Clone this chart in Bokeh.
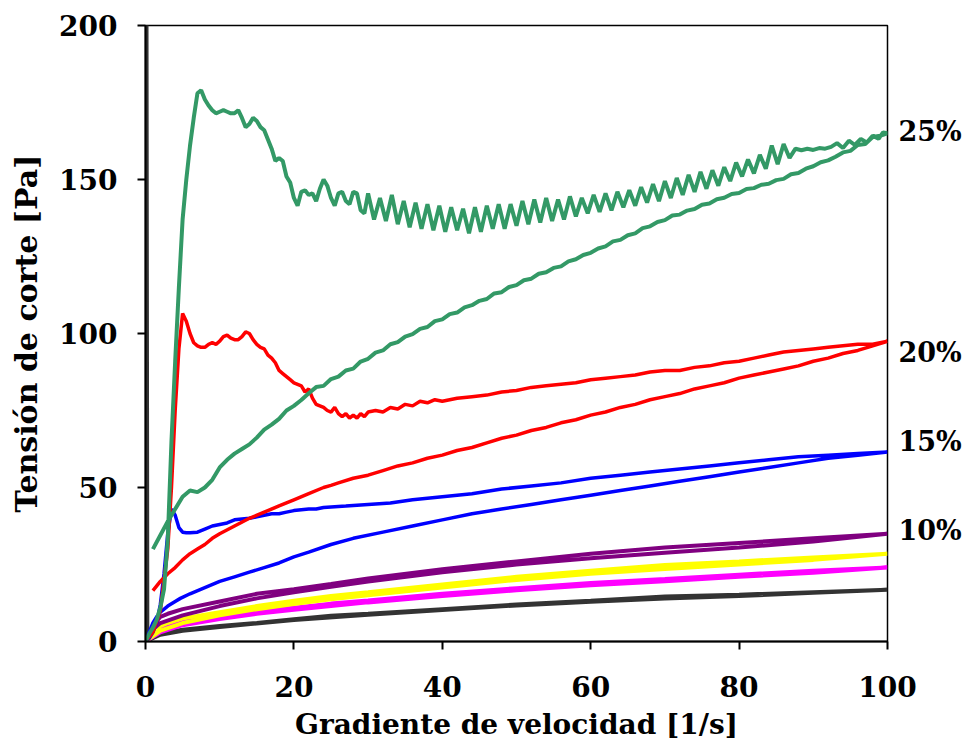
from bokeh.plotting import figure
from bokeh.models import Range1d, FixedTicker, LinearAxis
from bokeh.embed import file_html
from bokeh.resources import INLINE

# ---------------- data ----------------
x_ticks = [0, 20, 40, 60, 80, 100]
y_ticks = [0, 50, 100, 150, 200]
x_title = "Gradiente de velocidad [1/s]"
y_title = "Tensión de corte [Pa]"

series_labels = ["25%", "20%", "15%", "10%"]
series_label_y = [165.5, 93.8, 65.0, 36.0]

# 25 % - green: overshoot / oscillating up branch, then smooth return branch
green_x = [0, 0.5, 1, 1.5, 2, 2.5, 3, 3.5, 4, 4.5, 5, 5.5, 6, 6.5, 7, 7.5, 8, 8.5, 9, 9.5,
           10, 10.5, 11, 11.5, 12, 12.5, 13, 13.5, 14, 14.5, 15, 15.5, 16, 16.5, 17, 17.5,
           18, 18.5, 19, 19.5, 20, 20.5, 21, 21.5, 22, 22.5, 23, 23.5, 24, 24.5, 25, 25.5,
           26, 26.5, 27, 27.5, 28, 28.5, 29, 29.5,
           30.0, 30.8, 31.6, 32.4, 33.2, 34.0, 34.8, 35.6, 36.4, 37.2, 38.0, 38.8, 39.6, 40.4,
           41.2, 42.0, 42.8, 43.6, 44.4, 45.2, 46.0, 46.8, 47.6, 48.4, 49.2, 50.0, 50.8, 51.6,
           52.4, 53.2, 54.0, 54.8, 55.6, 56.4, 57.2, 58.0, 58.8, 59.6, 60.4, 61.2, 62.0, 62.8,
           63.6, 64.4, 65.2, 66.0, 66.8, 67.6, 68.4, 69.2, 70.0, 70.8, 71.6, 72.4, 73.2, 74.0,
           74.8, 75.6, 76.4, 77.2, 78.0, 78.8, 79.6, 80.4, 81.2, 82.0, 82.8, 83.6, 84.4, 85.2,
           86.0, 86.8, 87.6,
           88.4, 89.2, 90.0, 90.8, 91.6, 92.4, 93.2, 94.0, 94.8, 95.6, 96.4, 97.2, 98.0, 98.8,
           99.4, 100,
           99, 98, 97, 96, 95, 94, 93, 92, 91, 90, 89, 88, 87, 86, 85, 84, 83, 82, 81, 80,
           79, 78, 77, 76, 75, 74, 73, 72, 71, 70, 69, 68, 67, 66, 65, 64, 63, 62, 61, 60,
           59, 58, 57, 56, 55, 54, 53, 52, 51, 50, 49, 48, 47, 46, 45, 44, 43, 42, 41, 40,
           39, 38, 37, 36, 35, 34, 33, 32, 31, 30, 29, 28, 27, 26, 25, 24, 23, 22, 21, 20,
           19, 18, 17, 16, 15, 14, 13, 12, 11, 10, 9, 8, 7, 6, 5, 4, 3, 2, 1]
green_y = [0, 2.5, 4.5, 7, 11, 17, 33, 65, 91, 115, 137, 150, 161, 170, 178, 179, 176, 174, 172.5, 171.5,
           172, 172.5, 172, 171.5, 171.5, 172.5, 170, 167, 168, 170, 169, 167, 166, 163, 160, 156,
           157, 156, 151, 149, 144, 141.5, 146, 146.5, 145, 145.5, 143, 147, 150, 148, 144, 141.5,
           145.5, 146, 143, 142, 146, 145.5, 140, 139,
           145.5, 137, 144, 136.5, 145, 135.5, 143, 134.5, 142.5, 134, 142, 133.5, 141.5, 133,
           141, 133.5, 140.5, 132.5, 141, 133, 141.5, 134, 142, 134, 142, 135, 143, 135.5,
           143.5, 136, 144, 136.5, 143.5, 137, 144.5, 138, 144, 139, 145, 139.5, 145.5, 140,
           146, 141, 146.5, 141.5, 147.5, 142.5, 148.5, 143, 149.5, 144, 150.5, 145, 151.5, 146,
           152.5, 147, 153, 148, 154, 149.5, 155.5, 151, 156.5, 152, 158, 153.5, 161, 155,
           161.5, 157, 160,
           159.5, 160, 159.6, 160.2, 160, 160.6, 161.8, 160.2, 162.6, 161.2, 163.2, 162, 164.2, 163.2,
           165.3, 165,
           164.2, 163.8, 161.5, 161.2, 159.3, 158.8, 157.4, 156.2, 155.6, 154.3, 153.5, 152.1, 151.7, 150.2,
           149.8, 148.6, 148.3, 147.2, 146.9, 145.6,
           145.3, 144.1, 143.6, 142.2, 141.8, 140.4, 139.9, 138.6, 138.3, 136.8, 136.2, 134.8, 134.2, 132.5,
           131.9, 130.4, 129.9, 128.3, 127.6, 126.2,
           125.5, 124.1, 123.4, 121.8, 121.3, 119.9, 119.4, 117.8, 117.3, 115.7, 115.1, 113.4, 113.0, 111.2,
           110.6, 109.2, 108.5, 106.8, 106.3, 104.6,
           104.0, 102.1, 101.5, 99.8, 99.0, 97.2, 96.5, 94.5, 93.8, 91.8, 90.9, 88.6, 88.0, 86.0,
           85.2, 83.0, 82.6, 80.6, 78.4, 76.5,
           75.0, 72.3, 70.4, 68.8, 66.2, 64.0, 62.5, 61.0, 59.0, 56.5, 52.5, 50.0, 48.5, 49.0,
           47.0, 43.0, 39.0, 34.5, 30.0]

# 20 % - red
red_x = [0, 1, 2, 3, 3.5, 4, 4.5, 5, 5.5, 6, 6.5, 7, 7.5, 8, 8.5, 9, 9.5, 10, 10.5, 11,
         11.5, 12, 12.5, 13, 13.5, 14, 14.5, 15, 15.5, 16, 16.5, 17, 17.5, 18, 18.5, 19, 19.5, 20,
         20.5, 21, 21.5, 22, 22.5, 23, 23.5, 24, 24.5, 25, 25.5, 26, 26.5, 27, 27.5, 28, 28.5, 29,
         29.5, 30, 31, 32, 33, 34, 35, 36, 37, 38, 39, 40, 42, 44, 46, 48, 50, 52, 54, 56, 58,
         60, 62, 64, 66, 68, 70, 72, 74, 76, 78, 80, 82, 84, 86, 88, 90, 92, 94, 96, 98, 100,
         98, 96, 94, 92, 90, 88, 86, 84, 82, 80, 78, 76, 74, 72, 70, 68, 66, 64, 62, 60,
         58, 56, 54, 52, 50, 48, 46, 44, 42, 40, 38, 36, 34, 32, 30, 28, 26, 25, 24, 22, 20,
         18, 16, 14, 12, 10, 9, 8, 7, 6, 5, 4, 3, 2, 1]
red_y = [0, 3, 10, 30, 50, 75, 95, 106.5, 104, 100, 97, 96, 95.5, 95.5, 96.5, 97, 96.5, 97.5, 99, 99.5,
         98.5, 98, 98, 99, 100.5, 100, 98, 96.5, 95.5, 95, 93, 92, 90.5, 88, 87, 86, 85, 84,
         83.5, 83, 81, 82, 79, 77, 76.5, 76, 75, 74.5, 76, 74, 73, 74, 72.5, 73.5, 72.5, 74,
         73, 74.5, 75, 74.5, 76, 75.5, 77, 76.5, 78, 77.5, 78.5, 78, 79, 79.5, 80, 81, 81.5, 82.5, 83, 83.5, 84,
         85, 85.5, 86, 86.5, 87.5, 88, 88, 89, 89.5, 90.5, 91, 92, 93, 94, 94.5, 95, 95.5, 96, 96.5, 96.5, 97.5,
         96, 94.5, 93.5, 92, 91, 89.5, 88.5, 87.5, 86.5, 85.5, 84, 83, 82, 80.5, 79.5, 78.5, 77, 76, 74.5, 73.5,
         72, 71, 69.5, 68.5, 67, 66, 64.5, 63, 62, 60.5, 59.5, 58, 57, 55.5, 54, 53, 51.5, 50.7, 50, 48, 46,
         44, 42, 40, 37.5, 35, 33.5, 31.5, 30, 28.5, 26.5, 24, 22, 19.5, 16.5]

# 15 % - blue
blue_x = [0, 0.5, 1, 1.5, 2, 2.5, 3, 3.5, 4, 4.5, 5, 5.5, 6, 7, 8, 9, 10, 11, 12, 13, 14, 15,
          16, 17, 18, 19, 20, 21, 22, 23, 24, 25, 27, 30, 33, 36, 40, 44, 48, 52, 56, 60, 64,
          68, 72, 76, 80, 84, 88, 92, 96, 100,
          96, 92, 88, 84, 80, 76, 72, 68, 64, 60, 56, 52, 48, 44, 40, 36, 32, 28, 25, 22, 20,
          18, 16, 14, 12, 10, 8, 6, 4.7, 4, 3, 2, 1.5, 1, 0.5, 0]
blue_y = [0, 1, 3, 6, 12, 22, 35, 43, 41, 37, 35.5, 35.3, 35.3, 35.5, 36.5, 37.5, 38, 38.5, 39.5, 39.8, 40, 40.5,
          41, 41.5, 41.5, 42, 42.5, 42.8, 43, 43, 43.5, 43.7, 44, 44.5, 45, 46, 47, 48, 49.5, 50.5, 51.5, 53, 54,
          55, 56, 57, 58, 59, 60, 60.5, 61, 61.5,
          60.5, 59.5, 58, 56.5, 55, 53.5, 52, 50.5, 49, 47.5, 46, 44.5, 43, 41.5, 39.5, 37.5, 35.5, 33.5, 31.5, 29, 27.5,
          25.5, 24, 22.5, 21, 19.5, 17.5, 15.5, 14, 13, 11.5, 9.5, 8, 6, 3, 0]

# 10 % - purple (two close branches)
purple_x = [0, 1, 2, 3, 5, 10, 15, 20, 25, 30, 40, 50, 60, 70, 80, 90, 100,
            90, 80, 70, 60, 50, 40, 30, 25, 20, 15, 10, 5, 2, 1, 0]
purple_y = [0, 5, 8, 9, 10.5, 13, 15.5, 17, 18.7, 20.5, 23.5, 26, 28.5, 30.5, 32, 33.5, 35,
            32.5, 30.5, 28.8, 27, 25, 22.5, 19.5, 17.8, 16, 14, 11.5, 8.5, 6, 4, 0]

# yellow
yellow_x = [0, 1, 2, 3, 5, 10, 15, 20, 25, 30, 40, 50, 60, 70, 80, 90, 100,
            90, 80, 70, 60, 50, 40, 30, 25, 20, 15, 10, 5, 2, 0]
yellow_y = [0, 3, 5, 6, 7.5, 9.5, 11.5, 13.2, 14.8, 16, 18.5, 21, 23, 24.8, 26, 27.3, 28.5,
            26.5, 25, 23.5, 22, 20, 17.5, 15, 13.7, 12.2, 10.5, 8.5, 6, 3.5, 0]

# magenta
magenta_x = [0, 1, 2, 3, 5, 10, 15, 20, 25, 30, 40, 50, 60, 70, 80, 90, 100,
             90, 80, 70, 60, 50, 40, 30, 25, 20, 15, 10, 5, 2, 0]
magenta_y = [0, 2.5, 4, 5, 6.3, 8.2, 9.8, 11, 12.3, 13.3, 15.5, 17.3, 19, 20.3, 21.7, 23, 24,
             22.3, 21, 19.6, 18.3, 16.6, 14.8, 12.7, 11.5, 10.3, 9, 7.3, 5.3, 3, 0]

# dark grey (with start-up spike at the origin)
black_x = [0, 0.12, 0.25, 1, 2, 3, 5, 10, 15, 20, 25, 30, 40, 50, 60, 70, 80, 90, 100,
           90, 80, 70, 60, 50, 40, 30, 20, 10, 5, 2, 0]
black_y = [0, 230, 0.5, 1.5, 2.5, 3, 3.8, 5, 6, 7.2, 8.4, 9, 10.5, 12, 13.2, 14.6, 15.2, 16, 16.8,
           15.8, 14.8, 14, 12.9, 11.7, 10.2, 8.7, 7, 4.7, 3.5, 2.2, 0]

# ---------------- figure ----------------
FONT = "DejaVu Serif"

p = figure(width=968, height=753, output_backend="svg", toolbar_location=None,
           x_range=Range1d(0, 100), y_range=Range1d(0, 200),
           min_border_left=145, min_border_right=81, min_border_top=25, min_border_bottom=112)
p.frame_width = 742
p.frame_height = 616

p.xgrid.visible = False
p.ygrid.visible = False
p.outline_line_color = "black"
p.outline_line_width = 1.5
p.background_fill_color = "white"
p.border_fill_color = "white"

for ax in (p.xaxis[0], p.yaxis[0]):
    ax.axis_line_color = "black"
    ax.axis_line_width = 2
    ax.major_tick_line_color = "black"
    ax.major_tick_line_width = 2
    ax.major_tick_in = 0
    ax.major_tick_out = 8
    ax.minor_tick_line_color = None
    ax.major_label_text_font = FONT
    ax.major_label_text_font_style = "bold"
    ax.major_label_text_font_size = "28px"
    ax.major_label_text_color = "black"
    ax.axis_label_text_font = FONT
    ax.axis_label_text_font_style = "bold"
    ax.axis_label_text_color = "black"

p.xaxis[0].ticker = FixedTicker(ticks=x_ticks)
p.yaxis[0].ticker = FixedTicker(ticks=y_ticks)
p.xaxis[0].axis_label = x_title
p.yaxis[0].axis_label = y_title
p.xaxis[0].axis_label_text_font_size = "28px"
p.yaxis[0].axis_label_text_font_size = "30px"
p.xaxis[0].major_label_standoff = 26
p.xaxis[0].axis_label_standoff = 8
p.yaxis[0].major_label_standoff = 20
p.yaxis[0].axis_label_standoff = 12

# right-hand series labels (25 %, 20 %, ...)
right_ax = LinearAxis(ticker=FixedTicker(ticks=series_label_y),
                      major_label_overrides={v: t for v, t in zip(series_label_y, series_labels)})
right_ax.axis_line_color = None
right_ax.major_tick_line_color = None
right_ax.minor_tick_line_color = None
right_ax.major_tick_in = 0
right_ax.major_tick_out = 0
right_ax.major_label_standoff = 11
right_ax.major_label_text_font = FONT
right_ax.major_label_text_font_style = "bold"
right_ax.major_label_text_font_size = "27px"
right_ax.major_label_text_color = "black"
p.add_layout(right_ax, "right")

p.line(black_x, black_y, line_color="#333333", line_width=4)
p.line(magenta_x, magenta_y, line_color="#FF00FF", line_width=4)
p.line(yellow_x, yellow_y, line_color="#FFFF00", line_width=4)
p.line(purple_x, purple_y, line_color="#800080", line_width=4)
p.line(blue_x, blue_y, line_color="#0000FF", line_width=3.5)
p.line(red_x, red_y, line_color="#FF0000", line_width=3.5)
p.line(green_x, green_y, line_color="#339966", line_width=4)

open("out.html", "w").write(file_html(p, INLINE))
